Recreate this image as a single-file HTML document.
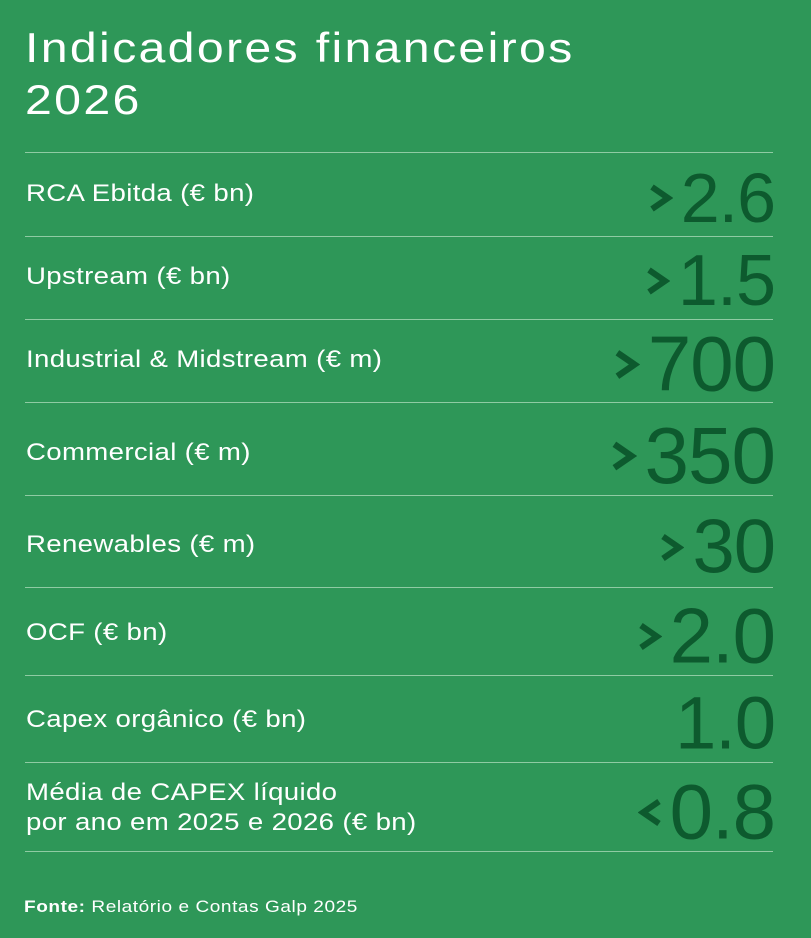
<!DOCTYPE html>
<html><head><meta charset="utf-8"><style>
body{margin:0;width:811px;height:938px;background:#2e9758;font-family:"Liberation Sans",sans-serif;color:#fff;position:relative;overflow:hidden}
.t{position:absolute;left:25px;top:22px;font-size:42px;line-height:52px;letter-spacing:2px;transform:scaleX(1.15);transform-origin:0 0;white-space:nowrap}
.ln{position:absolute;left:25px;width:748px;height:1px;background:#8fcba3}
.lb{position:absolute;left:26px;font-size:24px;line-height:30px;transform:translateY(-50%) scaleX(1.15);transform-origin:0 50%;letter-spacing:0.3px;white-space:nowrap}
.v{position:absolute;right:36px;display:flex;align-items:center;color:#0d5a2e;transform:translateY(-50%);letter-spacing:-1px}
.v svg{margin-right:8px}
.f{position:absolute;left:24px;top:897px;font-size:17px;letter-spacing:0.5px;transform:scaleX(1.12);transform-origin:0 0;white-space:nowrap}
</style></head><body>
<div class="t">Indicadores financeiros<br>2026</div>
<div class="ln" style="top:152px"></div>
<div class="ln" style="top:236px"></div>
<div class="ln" style="top:319px"></div>
<div class="ln" style="top:402px"></div>
<div class="ln" style="top:495px"></div>
<div class="ln" style="top:587px"></div>
<div class="ln" style="top:675px"></div>
<div class="ln" style="top:762px"></div>
<div class="ln" style="top:851px"></div>

<div class="lb" style="top:194px">RCA Ebitda (€ bn)</div>
<div class="lb" style="top:277px">Upstream (€ bn)</div>
<div class="lb" style="top:360px">Industrial &amp; Midstream (€ m)</div>
<div class="lb" style="top:453px">Commercial (€ m)</div>
<div class="lb" style="top:545px">Renewables (€ m)</div>
<div class="lb" style="top:633px">OCF (€ bn)</div>
<div class="lb" style="top:720px">Capex orgânico (€ bn)</div>
<div class="lb" style="top:808px">Média de CAPEX líquido<br>por ano em 2025 e 2026 (€ bn)</div>

<div class="v" style="top:198px;font-size:70px"><svg width="24" height="30" viewBox="0 0 24 30"><polyline points="3,4 19,15 3,26" fill="none" stroke="#0d5a2e" stroke-width="6"/></svg>2.6</div>
<div class="v" style="top:281px;font-size:72px"><svg width="24" height="30" viewBox="0 0 24 30"><polyline points="3,4 19,15 3,26" fill="none" stroke="#0d5a2e" stroke-width="6"/></svg>1.5</div>
<div class="v" style="top:364px;font-size:78px"><svg width="26" height="32" viewBox="0 0 24 30"><polyline points="3,4 19,15 3,26" fill="none" stroke="#0d5a2e" stroke-width="6"/></svg>700</div>
<div class="v" style="top:456px;font-size:80px"><svg width="26" height="32" viewBox="0 0 24 30"><polyline points="3,4 19,15 3,26" fill="none" stroke="#0d5a2e" stroke-width="6"/></svg>350</div>
<div class="v" style="top:547px;font-size:76px"><svg width="24" height="30" viewBox="0 0 24 30"><polyline points="3,4 19,15 3,26" fill="none" stroke="#0d5a2e" stroke-width="6"/></svg>30</div>
<div class="v" style="top:636px;font-size:78px"><svg width="24" height="30" viewBox="0 0 24 30"><polyline points="3,4 19,15 3,26" fill="none" stroke="#0d5a2e" stroke-width="6"/></svg>2.0</div>
<div class="v" style="top:723px;font-size:74px">1.0</div>
<div class="v" style="top:812px;font-size:78px"><svg width="24" height="30" viewBox="0 0 24 30"><polyline points="21,4 5,15 21,26" fill="none" stroke="#0d5a2e" stroke-width="6"/></svg>0.8</div>

<div class="f"><b>Fonte:</b> Relatório e Contas Galp 2025</div>
</body></html>
